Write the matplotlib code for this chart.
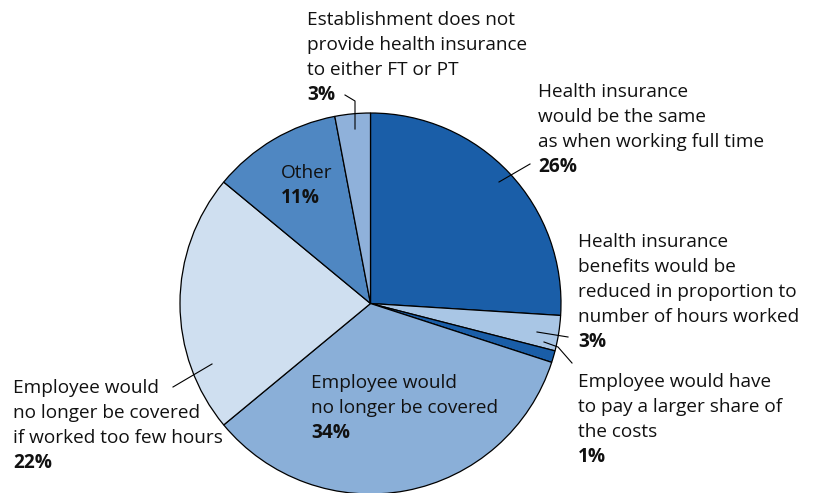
import matplotlib
matplotlib.use('Agg')
import matplotlib.pyplot as plt

font = {'family': ['Open Sans', 'DejaVu Sans'],
        'size': 13.7
        }
matplotlib.rc('font', **font)

# slices, clockwise from 12 o'clock
shares = [26, 3, 1, 34, 22, 11, 3]
colors = ['#1a5ea8', '#a9c6e5', '#1a5ea8', '#8aafd8', '#cfdff0', '#4f87c2', '#8fb1da']

# label text: (x, first baseline, lines, percent)
labels = [
    (538, 97, ['Health insurance', 'would be the same', 'as when working full time'], '26%'),
    (578, 247, ['Health insurance', 'benefits would be', 'reduced in proportion to', 'number of hours worked'], '3%'),
    (578, 387, ['Employee would have', 'to pay a larger share of', 'the costs'], '1%'),
    (311, 388, ['Employee would', 'no longer be covered'], '34%'),
    (13, 393, ['Employee would', 'no longer be covered', 'if worked too few hours'], '22%'),
    (281, 178, ['Other'], '11%'),
    (307, 25, ['Establishment does not', 'provide health insurance', 'to either FT or PT'], '3%'),
]

leaders = [
    [(499, 182), (530, 164)],
    [(537, 332), (568, 337)],
    [(544, 342), (558, 347), (572, 363)],
    [(173, 387), (212, 364)],
    [(345, 95), (355, 101), (355, 129)],
]

fig = plt.figure(figsize=(8.17, 4.93), dpi=100)
ax = fig.add_axes([0, 0, 1, 1])

# y axis is flipped, so counterclock in data space is clockwise on screen
ax.pie(shares, colors=colors, startangle=270, counterclock=True,
       center=(370.5, 303.5), radius=190.5, frame=True,
       wedgeprops={'edgecolor': 'black', 'linewidth': 0.9})
ax.set_xlim(0, 817)
ax.set_ylim(493, 0)
ax.set_aspect('equal')
ax.axis('off')

step = 25
for x, y0, lines, pct in labels:
    for i, ln in enumerate(lines):
        ax.text(x, y0 + i * step, ln, va='baseline', ha='left', color='#111111')
    ax.text(x, y0 + len(lines) * step, pct, va='baseline', ha='left',
            fontweight='bold', color='#111111')

for pts in leaders:
    xs = [p[0] for p in pts]
    ys = [p[1] for p in pts]
    ax.plot(xs, ys, color='black', linewidth=0.8)

fig.savefig('out.png', dpi=100)
